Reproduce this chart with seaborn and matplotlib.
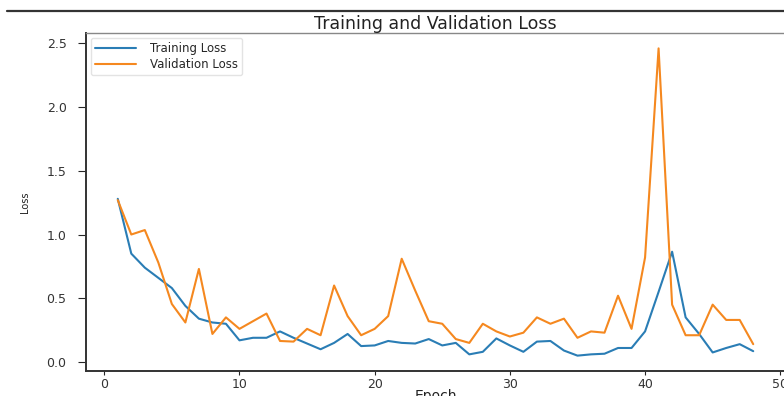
import matplotlib
matplotlib.use("Agg")
import matplotlib.pyplot as plt
from matplotlib.lines import Line2D
import numpy as np
import pandas as pd
import seaborn as sns

# Per-epoch loss history
epochs = list(range(1, 49))
train_loss = [1.28, 0.85, 0.74, 0.66, 0.58, 0.44, 0.34, 0.31, 0.30, 0.17,
              0.19, 0.19, 0.24, 0.19, 0.145, 0.10, 0.15, 0.22, 0.125, 0.13,
              0.165, 0.15, 0.145, 0.18, 0.13, 0.15, 0.06, 0.08, 0.185, 0.13,
              0.08, 0.16, 0.165, 0.09, 0.05, 0.06, 0.065, 0.11, 0.11, 0.24,
              0.55, 0.865, 0.35, 0.22, 0.075, 0.11, 0.14, 0.085]
val_loss = [1.27, 1.00, 1.035, 0.78, 0.455, 0.31, 0.73, 0.22, 0.35, 0.26,
            0.32, 0.38, 0.165, 0.16, 0.26, 0.21, 0.60, 0.36, 0.21, 0.26,
            0.36, 0.81, 0.56, 0.32, 0.30, 0.18, 0.15, 0.30, 0.24, 0.20,
            0.23, 0.35, 0.30, 0.34, 0.19, 0.24, 0.23, 0.52, 0.26, 0.82,
            2.46, 0.45, 0.21, 0.21, 0.45, 0.33, 0.33, 0.14]
series_names = ["Training Loss", "Validation Loss"]

df = pd.DataFrame({
    "Epoch": epochs * 2,
    "Loss": train_loss + val_loss,
    "Series": [series_names[0]] * len(epochs) + [series_names[1]] * len(epochs),
})

sns.set_style("ticks")
plt.rcParams["font.family"] = ["DejaVu Sans"]

fig = plt.figure(figsize=(7.84, 3.96), dpi=100)
ax = fig.add_axes([86 / 784, 25 / 396, 699 / 784, 338 / 396])

sns.lineplot(data=df, x="Epoch", y="Loss", hue="Series",
             palette=["#2a7db5", "#f5881f"], linewidth=1.5, ax=ax)

ax.set_title("Training and Validation Loss", fontsize=12.5, pad=3, color="#222222")
ax.set_xlabel("Epoch", fontsize=10, color="#222222", va="top")
ax.xaxis.set_label_coords(0.5, -0.052)
ax.set_ylabel("Loss", fontsize=7, color="#222222", va="center")
ax.yaxis.set_label_coords(-0.087, 0.5)
ax.set_xticks([0, 10, 20, 30, 40, 50])
ax.set_yticks([0.0, 0.5, 1.0, 1.5, 2.0, 2.5])
ax.tick_params(labelsize=9, labelcolor="#333333")
ax.tick_params(axis="y", length=6, pad=8)
ax.tick_params(axis="x", length=3, pad=2)

for side in ["top", "right"]:
    ax.spines[side].set_color("#888888")
    ax.spines[side].set_linewidth(1.0)
for side in ["left", "bottom"]:
    ax.spines[side].set_color("#333333")
    ax.spines[side].set_linewidth(1.4)

leg = ax.legend(loc="upper left", fontsize=8.5, frameon=True,
                borderaxespad=0.4, handlelength=3.5, handletextpad=1.2,
                labelspacing=0.25, borderpad=0.35)
leg.get_frame().set_edgecolor("#dddddd")

# thin rule above the title
fig.add_artist(Line2D([7 / 784, 1.0], [1 - 10.5 / 396, 1 - 10.5 / 396],
                      color="#333333", linewidth=1.6))

fig.savefig("out.png", dpi=100)
